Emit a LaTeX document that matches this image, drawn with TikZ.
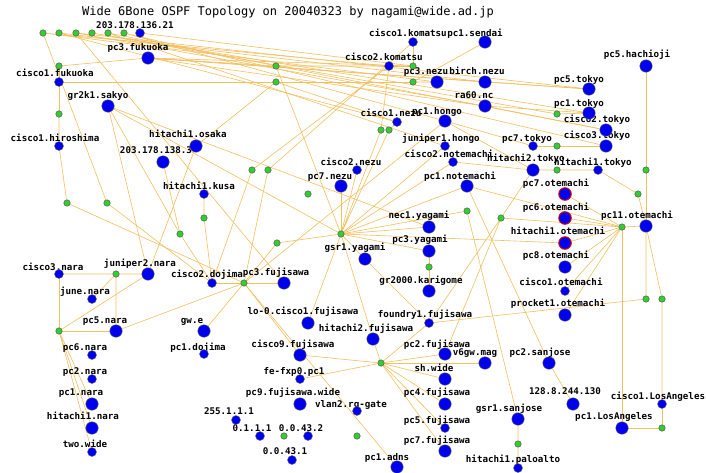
\documentclass[tikz,border=0pt]{standalone}
\usepackage{fontspec}
\newfontfamily\lblf{DejaVu Sans Mono}
\definecolor{nblue}{RGB}{0,0,238}
\definecolor{ngreen}{RGB}{51,204,51}
\definecolor{lcol}{RGB}{243,192,96}
\pgfdeclarelayer{bg}
\pgfsetlayers{bg,main}
\begin{document}
\begin{tikzpicture}[x=1pt,y=-1pt,
  rb/.style={circle,fill=nblue,draw=black!60,line width=0.4pt,minimum size=12.5pt,inner sep=0pt},
  rs/.style={rb,minimum size=9pt},
  rr/.style={rb,draw=red!85!black,line width=1pt},
  net/.style={circle,fill=ngreen,draw=black!70,line width=0.4pt,minimum size=6.5pt,inner sep=0pt},
  lbl/.style={font=\lblf\bfseries\fontsize{9.2}{10}\selectfont,inner sep=0pt,text height=6.5pt,text depth=0pt,anchor=center},
  ttl/.style={font=\lblf\fontsize{12}{13}\selectfont,inner sep=0pt,anchor=center},
  ln/.style={draw=lcol,line width=0.6pt}]
\useasboundingbox (0,0) rectangle (706,472);
\node[ttl] (title) at (288,12) {Wide 6Bone OSPF Topology on 20040323 by nagami@wide.ad.jp};
% labels
\node[lbl] (Lip136) at (135,25) {203.178.136.21};
\node[lbl] (Lpcfuk) at (138,47) {pc3.fukuoka};
\node[lbl] (Lcfuk) at (55,73) {cisco1.fukuoka};
\node[lbl] (Lsakyo) at (98,95) {gr2k1.sakyo};
\node[lbl] (Lck1) at (408,33) {cisco1.komatsu};
\node[lbl] (Lsendai) at (475,33) {pc1.sendai};
\node[lbl] (Lck2) at (384,57) {cisco2.komatsu};
\node[lbl] (Lpc3nezu) at (426,71) {pc3.nezu};
\node[lbl] (Lbirch) at (477,71) {birch.nezu};
\node[lbl] (Lra60) at (474,95) {ra60.nc};
\node[lbl] (Lcn1) at (391,113) {cisco1.nezu};
\node[lbl] (Lpc1hongo) at (437,111) {pc1.hongo};
\node[lbl] (Lhach) at (637,54) {pc5.hachioji};
\node[lbl] (Lpc5tok) at (579,79) {pc5.tokyo};
\node[lbl] (Lpc1tok) at (579,103) {pc1.tokyo};
\node[lbl] (Lc2tok) at (597,119) {cisco2.tokyo};
\node[lbl] (Lc3tok) at (597,135) {cisco3.tokyo};
\node[lbl] (Lchiro) at (55,138) {cisco1.hiroshima};
\node[lbl] (Lip138) at (156,150) {203.178.138.3};
\node[lbl] (Losaka) at (188,134) {hitachi1.osaka};
\node[lbl] (Lkusa) at (199,186) {hitachi1.kusa};
\node[lbl] (Ljun1) at (441,138) {juniper1.hongo};
\node[lbl] (Lcnot2) at (449,154) {cisco2.notemachi};
\node[lbl] (Lcn2) at (351,162) {cisco2.nezu};
\node[lbl] (Lpc7nezu) at (330,176) {pc7.nezu};
\node[lbl] (Lpc1not) at (460,176) {pc1.notemachi};
\node[lbl] (Lpc7tok) at (527,138) {pc7.tokyo};
\node[lbl] (Lh2tok) at (526,158) {hitachi2.tokyo};
\node[lbl] (Lh1tok) at (593,162) {hitachi1.tokyo};
\node[lbl] (Lnec1) at (419,215) {nec1.yagami};
\node[lbl] (Lpc7ot) at (556,183) {pc7.otemachi};
\node[lbl] (Lpc6ot) at (556,207) {pc6.otemachi};
\node[lbl] (Lpc11ot) at (637,215) {pc11.otemachi};
\node[lbl] (Lh1ot) at (558,231) {hitachi1.otemachi};
\node[lbl] (Lpc8ot) at (556,255) {pc8.otemachi};
\node[lbl] (Lcot1) at (561,282) {cisco1.otemachi};
\node[lbl] (Lprocket) at (558,303) {procket1.otemachi};
\node[lbl] (Lcnara3) at (53,267) {cisco3.nara};
\node[lbl] (Ljun2) at (140,263) {juniper2.nara};
\node[lbl] (Ljune) at (85,291) {june.nara};
\node[lbl] (Lcdoj2) at (207,274) {cisco2.dojima};
\node[lbl] (Lpc5nara) at (105,320) {pc5.nara};
\node[lbl] (Lgwe) at (192,320) {gw.e};
\node[lbl] (Lpc1doj) at (198,347) {pc1.dojima};
\node[lbl] (Lgsr1yag) at (355,247) {gsr1.yagami};
\node[lbl] (Lpc3yag) at (420,239) {pc3.yagami};
\node[lbl] (Lkari) at (421,280) {gr2000.karigome};
\node[lbl] (Lpc3fuj) at (276,272) {pc3.fujisawa};
\node[lbl] (Llo0) at (303,311) {lo-0.cisco1.fujisawa};
\node[lbl] (Lfoundry) at (425,314) {foundry1.fujisawa};
\node[lbl] (Lh2fuj) at (366,328) {hitachi2.fujisawa};
\node[lbl] (Lcisco9) at (293,344) {cisco9.fujisawa};
\node[lbl] (Lpc2fuj) at (437,344) {pc2.fujisawa};
\node[lbl] (Lv6gw) at (475,352) {v6gw.mag};
\node[lbl] (Lpc2sj) at (540,352) {pc2.sanjose};
\node[lbl] (Lpc6nara) at (85,347) {pc6.nara};
\node[lbl] (Lpc2nara) at (85,371) {pc2.nara};
\node[lbl] (Lpc1nara) at (81,392) {pc1.nara};
\node[lbl] (Lh1nara) at (83,416) {hitachi1.nara};
\node[lbl] (Ltwo) at (85,444) {two.wide};
\node[lbl] (Lfefxp) at (294,371) {fe-fxp0.pc1};
\node[lbl] (Lshwide) at (434,368) {sh.wide};
\node[lbl] (Lpc9fw) at (293,392) {pc9.fujisawa.wide};
\node[lbl] (Lpc4fuj) at (437,392) {pc4.fujisawa};
\node[lbl] (Lvlan2) at (351,404) {vlan2.rg-gate};
\node[lbl] (Lip255) at (229,411) {255.1.1.1};
\node[lbl] (Lpc5fuj) at (437,420) {pc5.fujisawa};
\node[lbl] (Lip0111) at (252,428) {0.1.1.1};
\node[lbl] (Lip00432) at (301,428) {0.0.43.2};
\node[lbl] (Lpc7fuj) at (437,440) {pc7.fujisawa};
\node[lbl] (Lip00431) at (285,451) {0.0.43.1};
\node[lbl] (Lpc1adns) at (387,457) {pc1.adns};
\node[lbl] (Lip128) at (565,391) {128.8.244.130};
\node[lbl] (Lcla1) at (658,396) {cisco1.LosAngeles};
\node[lbl] (Lgsr1sj) at (509,408) {gsr1.sanjose};
\node[lbl] (Lpc1la) at (614,416) {pc1.LosAngeles};
\node[lbl] (Lh1palo) at (513,459) {hitachi1.paloalto};
% routers
\node[rs] (ip136) at (140,33) {};
\node[rb] (pcfuk) at (148,58) {};
\node[rs] (cfuk) at (59,82) {};
\node[rb] (sakyo) at (108,106) {};
\node[rs] (ck1) at (413,42) {};
\node[rb] (sendai) at (485,42) {};
\node[rs] (ck2) at (389,66) {};
\node[rb] (pc3nezu) at (437,82) {};
\node[rb] (birch) at (485,82) {};
\node[rb] (ra60) at (485,106) {};
\node[rs] (cn1) at (397,122) {};
\node[rb] (pc1hongo) at (445,121) {};
\node[rb] (hach) at (646,66) {};
\node[rb] (pc5tok) at (589,89) {};
\node[rb] (pc1tok) at (589,113) {};
\node[rb] (c2tok) at (606,130) {};
\node[rb] (c3tok) at (606,146) {};
\node[rs] (chiro) at (59,146) {};
\node[rb] (ip138) at (163,162) {};
\node[rb] (osaka) at (196,146) {};
\node[rs] (kusa) at (204,194) {};
\node[rs] (jun1) at (445,146) {};
\node[rs] (cnot2) at (453,162) {};
\node[rs] (cn2) at (357,170) {};
\node[rb] (pc7nezu) at (341,186) {};
\node[rb] (pc1not) at (467,186) {};
\node[rs] (pc7tok) at (533,146) {};
\node[rb] (h2tok) at (533,170) {};
\node[rs] (h1tok) at (598,170) {};
\node[rb] (nec1) at (429,227) {};
\node[rr] (pc7ot) at (565,194) {};
\node[rr] (pc6ot) at (565,218) {};
\node[rb] (pc11ot) at (646,226) {};
\node[rr] (h1ot) at (565,243) {};
\node[rb] (pc8ot) at (565,267) {};
\node[rs] (cot1) at (565,291) {};
\node[rb] (procket) at (565,315) {};
\node[rs] (cnara3) at (59,274) {};
\node[rb] (jun2) at (148,274) {};
\node[rs] (june) at (92,299) {};
\node[rs] (cdoj2) at (212,283) {};
\node[rb] (pc5nara) at (116,331) {};
\node[rb] (gwe) at (204,331) {};
\node[rs] (pc1doj) at (204,354) {};
\node[rb] (gsr1yag) at (365,259) {};
\node[rb] (pc3yag) at (429,251) {};
\node[rb] (kari) at (429,291) {};
\node[rb] (pc3fuj) at (284,283) {};
\node[rb] (lo0) at (308,323) {};
\node[rs] (foundry) at (429,323) {};
\node[rb] (h2fuj) at (373,339) {};
\node[rb] (cisco9) at (300,355) {};
\node[rb] (pc2fuj) at (445,354) {};
\node[rb] (v6gw) at (485,363) {};
\node[rb] (pc2sj) at (549,363) {};
\node[rs] (pc6nara) at (92,355) {};
\node[rs] (pc2nara) at (92,379) {};
\node[rb] (pc1nara) at (92,404) {};
\node[rb] (h1nara) at (92,428) {};
\node[rs] (two) at (92,452) {};
\node[rs] (fefxp) at (300,379) {};
\node[rb] (shwide) at (445,379) {};
\node[rb] (pc9fw) at (300,404) {};
\node[rb] (pc4fuj) at (445,404) {};
\node[rs] (vlan2) at (357,411) {};
\node[rs] (ip255) at (236,420) {};
\node[rs] (pc5fuj) at (445,428) {};
\node[rs] (ip0111) at (260,436) {};
\node[rs] (ip00432) at (308,436) {};
\node[rb] (pc7fuj) at (445,451) {};
\node[rs] (ip00431) at (292,460) {};
\node[rb] (pc1adns) at (397,467) {};
\node[rb] (ip128) at (573,404) {};
\node[rs] (cla1) at (662,404) {};
\node[rb] (gsr1sj) at (518,419) {};
\node[rb] (pc1la) at (622,428) {};
\node[rs] (h1palo) at (518,468) {};
% networks
\node[net] (t1) at (43,33) {};
\node[net] (t2) at (59,33) {};
\node[net] (t3) at (76,33) {};
\node[net] (t4) at (92,33) {};
\node[net] (t5) at (108,33) {};
\node[net] (t6) at (124,33) {};
\node[net] (gfuka) at (59,66) {};
\node[net] (gfukb) at (59,114) {};
\node[net] (gkoma) at (413,66) {};
\node[net] (gx66) at (276,66) {};
\node[net] (gx82) at (276,82) {};
\node[net] (gsend) at (413,82) {};
\node[net] (gtok) at (557,114) {};
\node[net] (ghiro) at (67,203) {};
\node[net] (gsak) at (107,203) {};
\node[net] (gkusa) at (204,218) {};
\node[net] (gosa) at (180,234) {};
\node[net] (gnezua) at (381,130) {};
\node[net] (gnezub) at (389,130) {};
\node[net] (gmida) at (252,170) {};
\node[net] (gmidb) at (268,170) {};
\node[net] (gmidc) at (308,194) {};
\node[net] (hyag) at (341,234) {};
\node[net] (gnotem) at (467,211) {};
\node[net] (gtoka) at (557,146) {};
\node[net] (gtokb) at (557,170) {};
\node[net] (ghach) at (646,170) {};
\node[net] (gtokc) at (638,194) {};
\node[net] (gtokd) at (501,218) {};
\node[net] (hotem) at (622,227) {};
\node[net] (gnara) at (116,274) {};
\node[net] (gnarab) at (59,331) {};
\node[net] (hdoj) at (244,283) {};
\node[net] (gdoj) at (277,243) {};
\node[net] (gkari) at (429,267) {};
\node[net] (gotema) at (646,299) {};
\node[net] (gotemb) at (662,299) {};
\node[net] (hfuj) at (381,363) {};
\node[net] (gzero) at (284,436) {};
\node[net] (gvlan) at (357,436) {};
\node[net] (gsj) at (518,444) {};
\node[net] (gla) at (662,428) {};
\begin{pgfonlayer}{bg}
\fill[white] (0,0) rectangle (706,472);
\draw[ln] (t1)--(ck2) (t1)--(pc3nezu) (t1)--(gsak);
\draw[ln] (t2)--(cn1) (t2)--(birch);
\draw[ln] (t3)--(ra60) (t3)--(pc5tok) (t3)--(pc3fuj);
\draw[ln] (t4)--(pc1tok) (t4)--(gtok);
\draw[ln] (t5)--(c2tok) (t5)--(jun1);
\draw[ln] (t6)--(c3tok) (t6)--(pc1hongo);
\draw[ln] (ip136)--(gkoma);
\foreach \n in {gkoma,gx66,gfuka,birch,ra60,pc5tok} \draw[ln] (pcfuk)--(\n);
\foreach \n in {gsend,gfuka,gfukb} \draw[ln] (cfuk)--(\n);
\draw[ln] (gfukb)--(chiro) (chiro)--(ghiro) (ghiro)--(hdoj);
\draw[ln] (gsak)--(cdoj2);
\draw[ln] (gx66)--(hyag) (gx66)--(ck2);
\draw[ln] (gx82)--(osaka) (gx82)--(cn1);
\draw[ln] (gkoma)--(ck1) (gkoma)--(ck2);
\draw[ln] (gsend)--(pc3nezu) (gsend)--(sendai);
\draw[ln] (ck2)--(gnezua) (cn1)--(gnezub) (gnezua)--(hyag) (gnezub)--(hyag);
\draw[ln] (gmida)--(ck2) (gmida)--(cdoj2) (gmidb)--(ck1) (gmidb)--(hdoj);
\foreach \n in {hyag,gosa,jun2,nec1} \draw[ln] (sakyo)--(\n);
\draw[ln] (osaka)--(jun2);
\draw[ln] (ip138)--(gosa) (gosa)--(cdoj2);
\draw[ln] (kusa)--(gkusa) (gkusa)--(cdoj2);
\foreach \n in {cn2,pc7nezu,jun1,cnot2,pc1not,gnotem,nec1,pc3yag,gsr1yag,gdoj,h1ot,h2fuj,lo0} \draw[ln] (hyag)--(\n);
\draw[ln] (gdoj)--(hdoj);
\foreach \n in {cdoj2,pc3fuj,pc5nara,gwe,cisco9,pc1adns,pc1hongo} \draw[ln] (hdoj)--(\n);
\draw[ln] (pc3yag)--(gkari) (gkari)--(kari);
\draw[ln] (gsr1yag)--(foundry);
\draw[ln] (gnotem)--(gsr1sj) (gsr1sj)--(gsj) (gsj)--(h1palo);
\draw[ln] (pc1not)--(pc2sj) (pc2sj)--(ip128);
\draw[ln] (h2tok)--(gtokb) (gtokb)--(h1tok) (h1tok)--(gtokc) (gtokc)--(pc11ot);
\draw[ln] (h2tok)--(gtokd) (gtokd)--(foundry) (gtokd)--(pc2fuj) (gtokd)--(hotem);
\draw[ln] (pc7tok)--(gtoka) (gtoka)--(c3tok);
\draw[ln] (pc1tok)--(gtok);
\draw[ln] (hach)--(ghach) (ghach)--(pc11ot);
\draw[ln] (birch)--(pc5tok) (ra60)--(pc1tok) (ra60)--(c2tok);
\draw[ln] (pc1hongo)--(h2tok) (pc1hongo)--(pc7tok) (cnot2)--(h2tok);
\foreach \n in {pc11ot,pc7ot,pc6ot,h1ot,pc8ot,cot1,procket,pc1la,pc1not} \draw[ln] (hotem)--(\n);
\draw[ln] (foundry)--(gotema) (gotema)--(pc11ot) (gotemb)--(cla1) (gotemb)--(pc11ot);
\draw[ln] (pc1la)--(gla) (gla)--(cla1);
\foreach \n in {cisco9,fefxp,pc2fuj,shwide,pc4fuj,pc5fuj,pc7fuj,h2fuj,foundry,v6gw} \draw[ln] (hfuj)--(\n);
\draw[ln] (cnara3)--(gnarab);
\foreach \n in {pc5nara,jun2,pc1nara,h1nara,two} \draw[ln] (gnarab)--(\n);
\draw[ln] (cnara3)--(gnara) (gnara)--(jun2) (gnara)--(pc5nara) (gnara)--(june);
\end{pgfonlayer}
\end{tikzpicture}
\end{document}
